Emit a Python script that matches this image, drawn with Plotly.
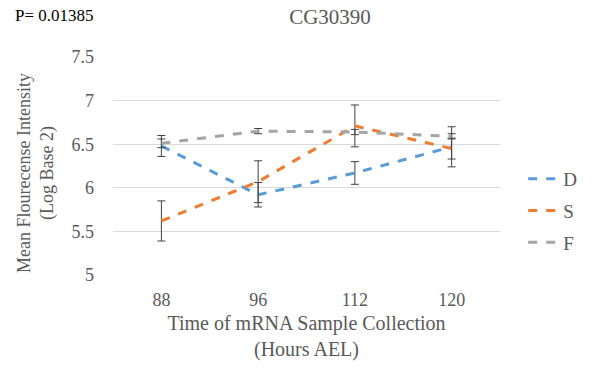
import plotly.graph_objects as go

hours = ["88", "96", "112", "120"]
series_names = ["D", "S", "F"]
d_vals = [6.48, 5.92, 6.17, 6.47]
s_vals = [5.62, 6.07, 6.71, 6.45]
f_vals = [6.51, 6.65, 6.64, 6.59]
d_err = [0.12, 0.14, 0.13, 0.23]
s_err = [0.23, 0.24, 0.24, 0.12]
f_err = [0.05, 0.03, 0.03, 0.03]
colors = ["#5B9BD5", "#ED7D31", "#A5A5A5"]

fig = go.Figure()
for name, vals, err, col in zip(series_names, [d_vals, s_vals, f_vals], [d_err, s_err, f_err], colors):
    fig.add_trace(go.Scatter(
        x=hours, y=vals, name=name, mode="lines", legendgroup=name,
        line=dict(color=col, width=3, dash="dash"),
        error_y=dict(type="data", array=err, visible=True, color="#404040", thickness=1, width=4),
    ))

font_family = "Liberation Serif"
fig.update_layout(
    width=600, height=368,
    margin=dict(l=113, r=100, t=57, b=93),
    paper_bgcolor="white", plot_bgcolor="white",
    font=dict(family=font_family, color="#595959", size=18),
    title=dict(text="CG30390", x=330/600, xanchor="center", y=1 - 17/368, yanchor="middle",
               font=dict(size=21, color="#595959", family=font_family)),
    xaxis=dict(type="category", range=[-0.5, 3.5], showgrid=False, showline=False, ticks="",
               tickfont=dict(size=18, color="#595959", family=font_family), ticklabelstandoff=12,
               title=dict(text="Time of mRNA Sample Collection<br>(Hours AEL)", standoff=6,
                          font=dict(size=20, color="#595959", family=font_family))),
    yaxis=dict(range=[5, 7.5], dtick=0.5, showgrid=True, gridcolor="#D9D9D9", gridwidth=1,
               zeroline=False, showline=False, ticks="", tickformat="~g",
               tickfont=dict(size=18, color="#595959", family=font_family), ticklabelstandoff=18),
    legend=dict(x=1.06, xanchor="left", y=0.294, yanchor="middle", tracegroupgap=4,
                font=dict(size=19, color="#595959", family=font_family), bgcolor="rgba(0,0,0,0)"),
    annotations=[
        dict(text="P= 0.01385", xref="paper", yref="paper",
             x=-100/387, y=1 + 42/218, xanchor="left", yanchor="middle",
             showarrow=False, font=dict(size=17, color="black", family=font_family)),
        dict(text="Mean Flourecense Intensity<br>(Log Base 2)", xref="paper", yref="paper",
             x=-77/387, y=(275 - 173)/218, xanchor="center", yanchor="middle", textangle=-90,
             showarrow=False, font=dict(size=18, color="#595959", family=font_family)),
    ],
)
fig.write_html("out.html")
